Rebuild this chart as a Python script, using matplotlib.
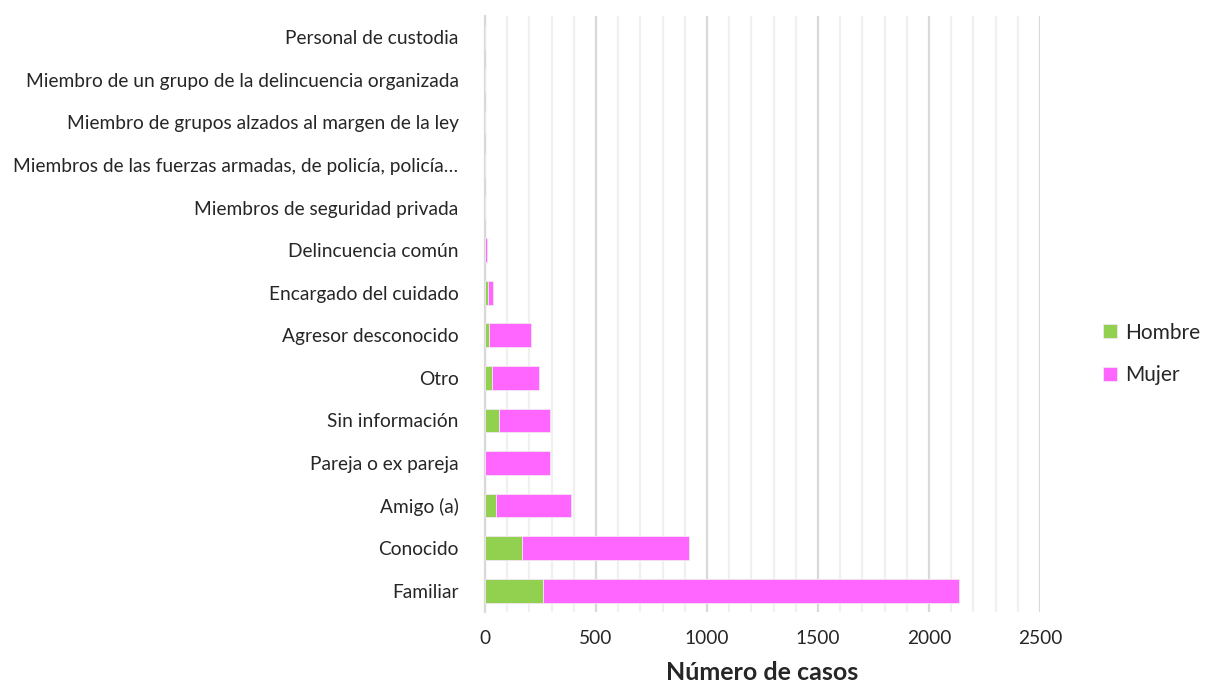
import matplotlib
matplotlib.use("Agg")
import matplotlib.pyplot as plt
from matplotlib.ticker import MultipleLocator

categories = ["Familiar", "Conocido", "Amigo (a)", "Pareja o ex pareja", "Sin información",
              "Otro", "Agresor desconocido", "Encargado del cuidado", "Delincuencia común",
              "Miembros de seguridad privada",
              "Miembros de las fuerzas armadas, de policía, policía…",
              "Miembro de grupos alzados al margen de la ley",
              "Miembro de un grupo de la delincuencia organizada",
              "Personal de custodia"]
hombre = [262, 165, 50, 0, 63, 31, 20, 15, 1, 0, 0, 0, 0, 0]
mujer = [1871, 756, 337, 292, 229, 212, 187, 21, 6, 0, 1, 1, 0, 0]
xticks = [0, 500, 1000, 1500, 2000, 2500]

plt.rcParams['font.family'] = ['Lato', 'DejaVu Sans']

fig = plt.figure(figsize=(12.05, 6.87), dpi=100)
ax = fig.add_axes([485/1205, 1 - 612/687, (1040-485)/1205, (612-16)/687])

y = list(range(len(categories)))
ax.barh(y, hombre, height=0.56, color="#92D050", label="Hombre", zorder=3,
        edgecolor="#f3e6f3", linewidth=0.6)
ax.barh(y, mujer, left=hombre, height=0.56, color="#FF66FF", label="Mujer", zorder=3,
        edgecolor="#f3e6f3", linewidth=0.6)

ax.set_xlim(0, 2500)
ax.set_ylim(-0.5, len(categories) - 0.5)
ax.set_xticks(xticks)
ax.set_xticklabels([str(t) for t in xticks])
ax.xaxis.set_minor_locator(MultipleLocator(100))
ax.grid(axis='x', which='major', color='#d9d9d9', linewidth=1.6, zorder=0)
ax.grid(axis='x', which='minor', color='#f0f0f0', linewidth=1.6, zorder=0)
ax.set_axisbelow(True)
ax.set_yticks(y)
ax.set_yticklabels(categories)
ax.tick_params(axis='both', which='both', length=0, labelsize=13.8, colors='#262626')
ax.tick_params(axis='y', pad=19)
ax.tick_params(axis='x', pad=13)
for s in ['top', 'right', 'bottom']:
    ax.spines[s].set_visible(False)
ax.spines['left'].set_color('#d9d9d9')
ax.spines['left'].set_linewidth(1.6)
ax.set_xlabel("Número de casos", fontsize=18, fontweight='bold', color='#262626', labelpad=10)

leg = fig.legend(loc='center left', bbox_to_anchor=(1103/1205, 1 - 354/687), frameon=False,
                 fontsize=15, handlelength=0.65, handleheight=0.65, handletextpad=0.4,
                 labelspacing=1.1, labelcolor='#262626', borderpad=0, borderaxespad=0)

fig.savefig("out.png", dpi=100)
